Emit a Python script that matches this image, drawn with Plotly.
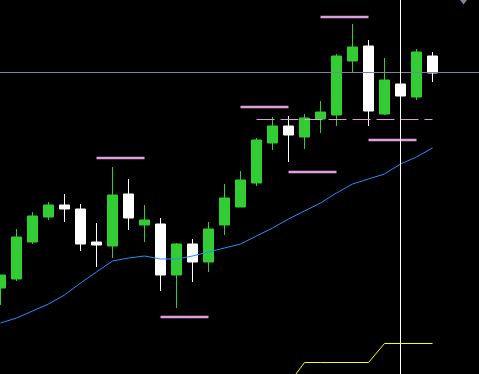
import plotly.graph_objects as go

# candle index (x) and OHLC values (price units)
idx = list(range(28))
opens  = [712, 721, 758, 783, 795, 791, 758, 754, 806, 775, 776, 725, 756, 738, 775, 793,
          817, 857, 874, 863, 881, 885, 939, 954, 886, 916, 903, 944]
highs  = [725, 771, 788, 798, 806, 796, 777, 833, 821, 795, 782, 757, 761, 778, 816, 829,
          862, 883, 884, 886, 899, 946, 976, 960, 942, 916, 951, 948]
lows   = [695, 719, 756, 780, 778, 749, 733, 742, 770, 758, 709, 692, 718, 728, 765, 793,
          814, 850, 838, 851, 867, 874, 928, 874, 885, 904, 900, 918]
closes = [725, 763, 784, 795, 791, 756, 755, 805, 782, 780, 725, 756, 738, 771, 802, 820,
          860, 874, 865, 882, 888, 944, 953, 889, 920, 904, 948, 927]

# moving average (per candle)
ma = [677, 682, 689, 696, 705, 717, 728, 739, 742, 744, 741, 741, 744, 748, 752, 756,
      764, 772, 781, 789, 797, 807, 816, 821, 826, 836, 843, 852]

# yellow indicator line
ind_x = [18, 19, 20, 21, 22, 23, 24, 25, 26, 27]
ind_y = [616, 637.5, 637.5, 637.5, 637.5, 637.5, 656.5, 656.5, 656.5, 656.5]

# pink level segments: (start index, end index, price)
seg_start = [6, 10, 20, 15, 23, 18]
seg_end   = [9, 13, 23, 18, 26, 21]
seg_price = [842, 683, 983, 893, 860, 828]

# dashed level
dash_x = [16, 27]
dash_price = 880.5

# crosshair
cross_x = 25
cross_price = 927.5

# marker at top right
tri_x = [28.94]
tri_y = [999.5]

fig = go.Figure()

fig.add_trace(go.Scatter(x=idx, y=ma, mode="lines",
                         line=dict(color="#1e90ff", width=1), hoverinfo="skip"))

sx, sy = [], []
for a, b, p in zip(seg_start, seg_end, seg_price):
    sx += [a, b, None]
    sy += [p, p, None]
fig.add_trace(go.Scatter(x=sx, y=sy, mode="lines",
                         line=dict(color="#dda0dd", width=2.5), hoverinfo="skip"))

fig.add_trace(go.Scatter(x=dash_x, y=[dash_price] * 2, mode="lines",
                         line=dict(color="#dda0dd", width=1, dash="18px,6px"), hoverinfo="skip"))

fig.add_trace(go.Scatter(x=ind_x, y=ind_y, mode="lines",
                         line=dict(color="#ffff00", width=1), hoverinfo="skip"))

fig.add_trace(go.Candlestick(
    x=idx, open=opens, high=highs, low=lows, close=closes,
    increasing=dict(line=dict(color="#32cd32", width=1), fillcolor="#32cd32"),
    decreasing=dict(line=dict(color="#ffffff", width=1), fillcolor="#ffffff"),
    whiskerwidth=0, hoverinfo="skip"))

fig.add_trace(go.Scatter(x=[-1, 31], y=[cross_price] * 2, mode="lines",
                         line=dict(color="#778899", width=1), hoverinfo="skip"))
fig.add_trace(go.Scatter(x=[cross_x] * 2, y=[500, 1100], mode="lines",
                         line=dict(color="#ffffff", width=1), hoverinfo="skip"))

fig.add_trace(go.Scatter(x=tri_x, y=tri_y, mode="markers",
                         marker=dict(symbol="triangle-down", size=8, color="#778899"),
                         hoverinfo="skip"))

fig.update_layout(
    width=479, height=374,
    margin=dict(l=0, r=0, t=0, b=0),
    paper_bgcolor="#000000", plot_bgcolor="#000000",
    showlegend=False,
    boxgap=0.375, boxgroupgap=0,
    xaxis=dict(range=[-0.03125, 29.90625], visible=False, rangeslider=dict(visible=False),
               showgrid=False, zeroline=False, fixedrange=True),
    yaxis=dict(range=[626, 1000], visible=False, showgrid=False, zeroline=False, fixedrange=True),
    hovermode=False,
)

fig.write_html("out.html", config=dict(displayModeBar=False))
